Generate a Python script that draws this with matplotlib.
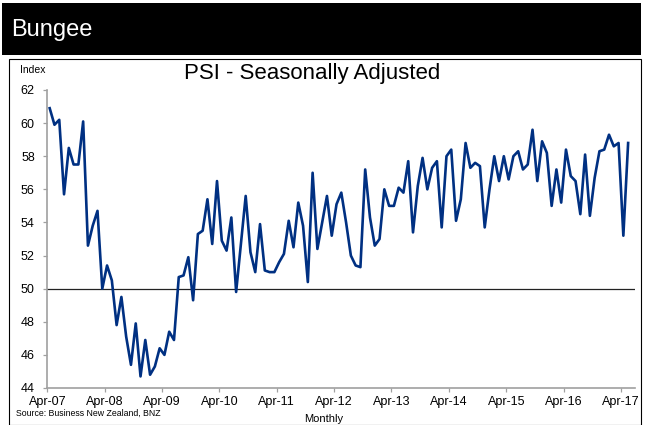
import matplotlib.pyplot as plt
import numpy as np
from matplotlib.patches import Rectangle

# PSI monthly, Apr-07 .. May-17
psi = [60.9, 59.9, 60.2, 55.7, 58.5, 57.5, 57.5, 60.1, 52.6, 53.8,
       54.7, 50.0, 51.4, 50.5, 47.8, 49.5, 47.1, 45.4, 47.9, 44.7,
       46.9, 44.8, 45.3, 46.4, 46.0, 47.4, 46.9, 50.7, 50.8, 51.9,
       49.3, 53.3, 53.5, 55.4, 52.7, 56.5, 52.9, 52.3, 54.3, 49.8,
       52.7, 55.6, 52.2, 51.0, 53.9, 51.1, 51.0, 51.0, 51.6, 52.1,
       54.1, 52.5, 55.2, 53.8, 50.4, 57.0, 52.4, 54.0, 55.6, 53.2,
       55.1, 55.8, 54.0, 52.0, 51.4, 51.3, 57.2, 54.3, 52.6, 53.0,
       56.0, 55.0, 55.0, 56.1, 55.8, 57.7, 53.4, 56.2, 57.9, 56.0,
       57.3, 57.7, 53.7, 58.0, 58.4, 54.1, 55.4, 58.8, 57.3, 57.6,
       57.4, 53.7, 56.0, 58.0, 56.5, 58.0, 56.6, 58.0, 58.3, 57.2,
       57.5, 59.6, 56.5, 58.9, 58.2, 55.0, 57.2, 55.2, 58.4, 56.8,
       56.5, 54.5, 58.1, 54.4, 56.7, 58.3, 58.4, 59.3, 58.6, 58.8,
       53.2, 58.8]
tick_labels = ['Apr-07', 'Apr-08', 'Apr-09', 'Apr-10', 'Apr-11', 'Apr-12',
               'Apr-13', 'Apr-14', 'Apr-15', 'Apr-16', 'Apr-17']
y_ticks = [44, 46, 48, 50, 52, 54, 56, 58, 60, 62]

plt.rcParams['font.family'] = ['Liberation Sans', 'DejaVu Sans']

W, H = 651, 425
fig = plt.figure(figsize=(W / 100, H / 100), dpi=100)

def fx(px):
    return px / W

def fy(py):
    return 1 - py / H

# black header band
fig.patches.append(Rectangle((fx(2), fy(55)), fx(639), 52 / H, transform=fig.transFigure,
                             facecolor='black', edgecolor='none', zorder=0))
fig.text(fx(11), fy(30), 'Bungee', color='white', fontsize=17, va='center', ha='left')

# chart frame
fig.patches.append(Rectangle((fx(8.5), fy(424.5)), fx(632), 366 / H, transform=fig.transFigure,
                             facecolor='none', edgecolor='black', linewidth=0.8, zorder=0))

ax = fig.add_axes([fx(47.3), fy(388), fx(588), 298 / H])
x = np.arange(len(psi))
ax.plot(x, psi, color='#003082', linewidth=1.9, zorder=3)
ax.axhline(50, color='#222222', linewidth=0.9, zorder=2)

ax.set_xlim(-0.5, 122.5)
ax.set_ylim(44, 62)
ax.set_yticks(y_ticks)
ax.set_xticks(np.arange(len(tick_labels)) * 12 - 0.5)
ax.set_xticklabels(tick_labels)
ax.tick_params(axis='both', labelsize=9, color='#a0a0a0', length=3, width=0.9)
ax.tick_params(axis='y', pad=6)
ax.tick_params(axis='x', pad=3)

for s in ['top', 'right']:
    ax.spines[s].set_visible(False)
for s in ['left', 'bottom']:
    ax.spines[s].set_color('#a0a0a0')
    ax.spines[s].set_linewidth(1.2)

fig.text(fx(312), fy(73), 'PSI - Seasonally Adjusted', fontsize=16, ha='center', va='center')
fig.text(fx(20), fy(70), 'Index', fontsize=7.5, ha='left', va='center')
fig.text(fx(16), fy(413), 'Source: Business New Zealand, BNZ', fontsize=6.3, ha='left', va='center')
fig.text(fx(324), fy(419), 'Monthly', fontsize=8, ha='center', va='center')

plt.savefig('out.png', dpi=100)
